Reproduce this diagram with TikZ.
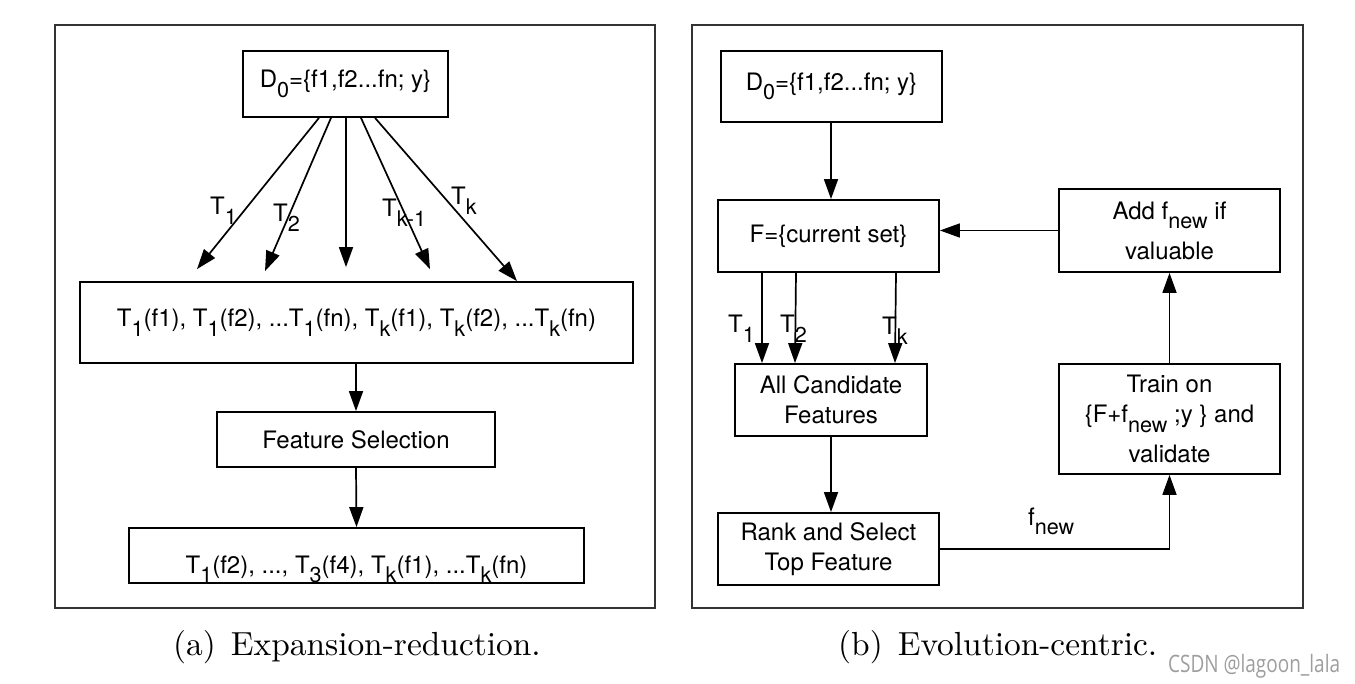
\documentclass[tikz,border=0pt]{standalone}
\usepackage{fontspec}
\setsansfont{TeX Gyre Heros}
\newfontfamily\wmfont{Open Sans}
\newfontfamily\capfont{lmroman10-regular}[Extension=.otf]
\usetikzlibrary{arrows.meta,calc}
\newcommand{\lo}[1]{\raisebox{-0.4em}{\scalebox{0.9}{#1}}}
\begin{document}
\begin{tikzpicture}[x=1pt,y=-1pt,
  box/.style={draw, line width=1.8pt, inner sep=0pt, align=center,
    font=\sffamily\fontsize{24}{30}\selectfont},
  frame/.style={draw=black!80, line width=1.4pt},
  arr/.style={line width=1.7pt, -{Triangle[length=20pt,width=14pt]}},
  lab/.style={font=\sffamily\fontsize{24}{30}\selectfont, inner sep=0pt, anchor=base west},
  captxt/.style={font=\capfont\fontsize{33.4}{40}\selectfont, inner sep=0pt, anchor=base west}]
\useasboundingbox (0,0) rectangle (1355,684);
\draw[frame] (55,25) rectangle (655,608);
\draw[frame] (692,25) rectangle (1303,608);

% ---- left panel
\node[box, minimum width=205pt, minimum height=66pt] (d0) at (345.5,84) {D\lo{0}=\{f1,f2...fn; y\}};
\node[box, minimum width=553pt, minimum height=81pt] (big) at (356.5,322.5)
  {T\lo{1}(f1), T\lo{1}(f2), ...T\lo{1}(fn), T\lo{k}(f1), T\lo{k}(f2), ...T\lo{k}(fn)};
\node[box, minimum width=278pt, minimum height=55pt] (fs) at (356,439.5) {Feature Selection};
\node[box, minimum width=455pt, minimum height=55pt, text height=35pt, text depth=0pt] (res) at (356.5,555.5)
  {T\lo{1}(f2), ..., T\lo{3}(f4), T\lo{k}(f1), ...T\lo{k}(fn)};

\draw[arr] ([xshift=-26.5pt]d0.south) -- ([xshift=-159.5pt,yshift=12pt]big.north);
\draw[arr] ([xshift=-14.5pt]d0.south) -- ([xshift=-91.5pt,yshift=10pt]big.north);
\draw[arr] ([xshift=0.5pt]d0.south) -- ([xshift=-10.5pt,yshift=14pt]big.north);
\draw[arr] ([xshift=15.5pt]d0.south) -- ([xshift=73.5pt,yshift=12pt]big.north);
\draw[arr] ([xshift=29.5pt]d0.south) -- ([xshift=160.5pt]big.north);
\draw[arr] (big.south -| fs.north) -- (fs.north);
\draw[arr] (fs.south) -- (res.north);

\node[lab] (la1) at (210,215) {T\lo{1}};
\node[lab] (la2) at (273,222) {T\lo{2}};
\node[lab] (la3) at (382,217) {T\lo{k-1}};
\node[lab] (la4) at (451,205) {T\lo{k}};

% ---- right panel
\node[box, minimum width=221pt, minimum height=71pt] (d0r) at (831.5,86.5) {D\lo{0}=\{f1,f2...fn; y\}};
\node[box, minimum width=221pt, minimum height=72pt] (f) at (828.5,236) {F=\{current set\}};
\node[box, minimum width=221pt, minimum height=83pt] (add) at (1169.5,230.5) {Add f\lo{new} if\\[10pt]valuable};
\node[box, minimum width=192pt, minimum height=72pt] (cand) at (831,400) {All Candidate\\Features};
\node[box, minimum width=221pt, minimum height=110pt] (train) at (1169.5,419)
  {Train on\\\{F+f\lo{new} ;y \} and\\[10pt]validate};
\node[box, minimum width=221pt, minimum height=72pt] (rank) at (828.5,549) {Rank and Select\\Top Feature};

\draw[arr] (d0r.south -| cand.north) -- (cand.north |- f.north);
\draw[arr] ([xshift=-66.5pt]f.south) -- ([xshift=-69pt]cand.north);
\draw[arr] ([xshift=-32.5pt]f.south) -- ([xshift=-36pt]cand.north);
\draw[arr] ([xshift=67.5pt]f.south) -- ([xshift=64pt]cand.north);
\draw[arr] (cand.south) -- (rank.north -| cand.south);
\draw[arr] (rank.east) -| (train.south);
\draw[arr] (train.north) -- (add.south);
\draw[arr] (add.west) -- (add.west -| f.east);

\node[lab] (lb1) at (728,333) {T\lo{1}};
\node[lab] (lb2) at (780,333) {T\lo{2}};
\node[lab] (lb3) at (882,335) {T\lo{k}};
\node[lab] (lfn) at (1028,525) {f\lo{new}};

% ---- captions
\node[captxt] (capa) at (173,655) {(a)\hspace{0.45em}Expansion-reduction.};
\node[captxt] (capb) at (838,655) {(b)\hspace{0.45em}Evolution-centric.};
\node[font=\wmfont\fontsize{24}{28}\selectfont, text=black!38, inner sep=0pt, anchor=base west] (wm)
  at (1168,672) {\scalebox{0.79}[1]{CSDN @lagoon\_lala}};
\end{tikzpicture}
\end{document}
